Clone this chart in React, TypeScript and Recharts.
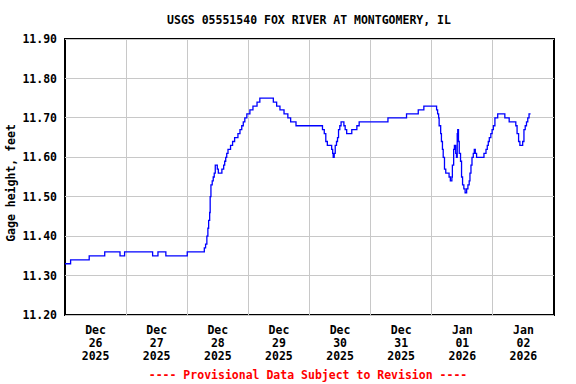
import React from "react";
import { LineChart, Line, XAxis, YAxis, ReferenceLine, ReferenceArea } from "recharts";

// hours since Dec 26 2025 00:00
const hours = [
  0, 2.2, 9.5, 15.6, 21.6, 23.4, 34.4, 36.5, 39.6, 48.0,
  54.7, 55.2, 55.7, 56.1, 56.4, 56.8, 57.0, 57.3, 57.8, 58.2,
  58.6, 59.0, 59.8, 60.2, 61.6, 62.3, 62.7, 63.1, 63.5, 64.0,
  65.0, 65.8, 66.6, 67.9, 68.7, 69.4, 70.0, 70.6, 71.4, 72.6,
  73.8, 75.4, 76.5, 81.8, 83.1, 84.4, 86.0, 87.5, 88.6, 90.7,
  101.1, 101.8, 102.4, 103.0, 104.7, 105.1, 105.3, 105.7, 106.1, 106.6,
  107.0, 107.4, 107.9, 108.4, 109.5, 110.0, 110.6, 112.6, 114.6, 115.5,
  126.8, 134.1, 138.7, 140.9, 145.9, 146.3, 146.7, 146.9, 147.5, 147.8,
  148.2, 148.5, 149.0, 149.5, 150.8, 151.3, 151.9, 152.1, 152.6, 152.9,
  153.4, 153.7, 154.0, 154.2, 154.5, 154.8, 155.3, 155.7, 156.1, 156.6,
  157.1, 157.7, 158.2, 158.7, 159.0, 159.4, 159.8, 160.3, 160.7, 161.1,
  161.6, 164.5, 165.3, 165.8, 166.2, 166.6, 167.2, 167.7, 168.2, 168.8,
  169.9, 172.7, 174.4, 177.0, 177.5, 178.1, 178.6, 179.7, 180.2, 180.7,
  181.2, 181.7, 182.2, 182.8,
];

const gageHeight = [
  11.33, 11.34, 11.35, 11.36, 11.35, 11.36, 11.35, 11.36, 11.35, 11.36,
  11.37, 11.38, 11.40, 11.42, 11.44, 11.46, 11.50, 11.53, 11.54, 11.55,
  11.56, 11.58, 11.57, 11.56, 11.57, 11.58, 11.59, 11.60, 11.61, 11.62,
  11.63, 11.64, 11.65, 11.66, 11.67, 11.68, 11.69, 11.70, 11.71, 11.72,
  11.73, 11.74, 11.75, 11.74, 11.73, 11.72, 11.71, 11.70, 11.69, 11.68,
  11.67, 11.66, 11.64, 11.63, 11.62, 11.61, 11.60, 11.61, 11.63, 11.64,
  11.65, 11.67, 11.68, 11.69, 11.68, 11.67, 11.66, 11.67, 11.68, 11.69,
  11.70, 11.71, 11.72, 11.73, 11.72, 11.71, 11.70, 11.68, 11.66, 11.64,
  11.62, 11.60, 11.57, 11.56, 11.55, 11.54, 11.55, 11.58, 11.62, 11.63,
  11.61, 11.60, 11.66, 11.67, 11.64, 11.61, 11.59, 11.55, 11.53, 11.52,
  11.51, 11.52, 11.53, 11.54, 11.56, 11.58, 11.60, 11.61, 11.62, 11.61,
  11.60, 11.61, 11.62, 11.63, 11.64, 11.65, 11.66, 11.67, 11.68, 11.70,
  11.71, 11.70, 11.69, 11.68, 11.66, 11.64, 11.63, 11.64, 11.67, 11.68,
  11.69, 11.70, 11.71, 11.71,
];

const xTickHours = [12, 36, 60, 84, 108, 132, 156, 180];
const xTickMonth = ["Dec", "Dec", "Dec", "Dec", "Dec", "Dec", "Jan", "Jan"];
const xTickDay = ["26", "27", "28", "29", "30", "31", "01", "02"];
const xTickYear = ["2025", "2025", "2025", "2025", "2025", "2025", "2026", "2026"];
const gridHours = [24, 48, 72, 96, 120, 144, 168];
const yTicks = [11.2, 11.3, 11.4, 11.5, 11.6, 11.7, 11.8, 11.9];

const data = hours.map((h, i) => ({ h, v: gageHeight[i] }));

const FONT = "'DejaVu Sans Mono', monospace";

const XTick = (props: any) => {
  const { x, y, payload } = props;
  const i = xTickHours.indexOf(payload.value);
  return (
    <text x={x} y={y} textAnchor="middle" fontFamily={FONT} fontWeight="bold" fontSize={11.5} fill="#000">
      <tspan x={x} dy={11}>{xTickMonth[i]}</tspan>
      <tspan x={x} dy={13}>{xTickDay[i]}</tspan>
      <tspan x={x} dy={13}>{xTickYear[i]}</tspan>
    </text>
  );
};

export default function App() {
  return (
    <div style={{ position: "absolute", left: 0, top: 0, width: 576, height: 384, background: "#fff", fontFamily: FONT }}>
      <div style={{ position: "absolute", left: 309, top: 20, transform: "translate(-50%,-50%)", whiteSpace: "nowrap", fontWeight: "bold", fontSize: 11.5, color: "#000" }}>
        USGS 05551540 FOX RIVER AT MONTGOMERY, IL
      </div>
      <div style={{ position: "absolute", left: 11, top: 183, transform: "translate(-50%,-50%) rotate(-90deg)", whiteSpace: "nowrap", fontWeight: "bold", fontSize: 11.5, color: "#000" }}>
        Gage height, feet
      </div>
      <div style={{ position: "absolute", left: 308, top: 375, transform: "translate(-50%,-50%)", whiteSpace: "nowrap", fontWeight: "bold", fontSize: 11.5, color: "#ff0000" }}>
        ---- Provisional Data Subject to Revision ----
      </div>
      <div style={{ position: "absolute", left: 0, top: 0 }}>
        <LineChart width={576} height={384} data={data} margin={{ top: 39, right: 22, bottom: 19, left: 5 }}>
          <XAxis
            dataKey="h"
            type="number"
            domain={[0, 192]}
            ticks={xTickHours}
            tick={<XTick />}
            axisLine={false}
            tickLine={false}
            height={50}
            interval={0}
          />
          <YAxis
            type="number"
            domain={[11.2, 11.9]}
            ticks={yTicks}
            tickFormatter={(v: number) => v.toFixed(2)}
            axisLine={false}
            tickLine={false}
            width={60}
            interval={0}
            tick={{ fontFamily: FONT, fontWeight: "bold", fontSize: 11.5, fill: "#000" }}
          />
          {yTicks.map((t) => (
            <ReferenceLine key={"y" + t} y={t} stroke="#c8c8c8" strokeWidth={1} shapeRendering="crispEdges" />
          ))}
          {gridHours.map((g) => (
            <ReferenceLine key={"x" + g} x={g} stroke="#c8c8c8" strokeWidth={1} shapeRendering="crispEdges" />
          ))}
          <Line
            type="stepAfter"
            dataKey="v"
            stroke="#0000ff"
            strokeWidth={1.3}
            dot={false}
            isAnimationActive={false}
          />
          <ReferenceArea x1={0} x2={192} y1={11.2} y2={11.9} fill="none" stroke="#000" strokeWidth={1.5} shapeRendering="crispEdges" />
        </LineChart>
      </div>
    </div>
  );
}
